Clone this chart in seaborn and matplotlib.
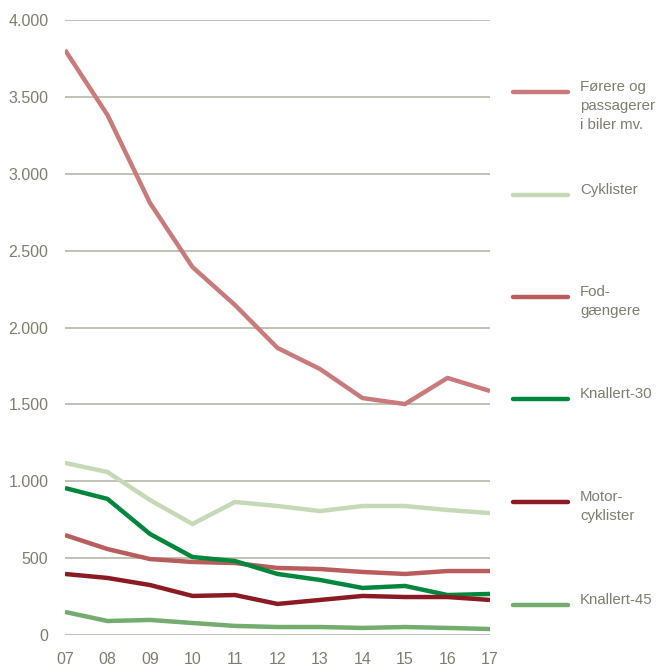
import pandas as pd
import matplotlib.pyplot as plt
from matplotlib.lines import Line2D
import seaborn as sns

# data
years = [7, 8, 9, 10, 11, 12, 13, 14, 15, 16, 17]
year_labels = ['07', '08', '09', '10', '11', '12', '13', '14', '15', '16', '17']

forere = [3805, 3382, 2810, 2393, 2146, 1867, 1730, 1541, 1502, 1672, 1587]
cyklister = [1119, 1060, 878, 722, 865, 839, 806, 839, 839, 813, 793]
fodgaengere = [650, 559, 494, 475, 468, 436, 429, 410, 397, 416, 416]
knallert30 = [956, 885, 657, 507, 481, 397, 358, 306, 319, 260, 267]
motorcyklister = [397, 371, 325, 254, 260, 202, 228, 254, 247, 247, 228]
knallert45 = [150, 91, 98, 78, 59, 52, 52, 46, 52, 46, 39]

series = ['Førere og\npassagerer\ni biler mv.', 'Cyklister', 'Fod-\ngængere',
          'Knallert-30', 'Motor-\ncyklister', 'Knallert-45']
values = [forere, cyklister, fodgaengere, knallert30, motorcyklister, knallert45]
colors = ['#c97b7b', '#c6d9b6', '#b85c5c', '#00873c', '#8b1a22', '#74ab6e']

y_ticks = [0, 500, 1000, 1500, 2000, 2500, 3000, 3500, 4000]
y_labels = ['0', '500', '1.000', '1.500', '2.000', '2.500', '3.000', '3.500', '4.000']

rows = []
for name, vals in zip(series, values):
    for yr, v in zip(years, vals):
        rows.append((yr, v, name))
df = pd.DataFrame(rows, columns=['year', 'value', 'series'])

sns.set_style('white')
plt.rcParams['font.family'] = ['Liberation Sans Narrow', 'Liberation Sans', 'DejaVu Sans']
text_col = '#7f7d6e'
grid_col = '#b8b6a8'

fig = plt.figure(figsize=(6.57, 6.66), dpi=100)
ax = fig.add_axes([65 / 657, 31 / 666, 425 / 657, 615 / 666])

for y in y_ticks:
    ax.axhline(y, color=grid_col, lw=1.2, zorder=0)

sns.lineplot(data=df, x='year', y='value', hue='series', hue_order=series,
             palette=colors, linewidth=3.2, ax=ax, legend=False)
for ln in ax.lines[len(y_ticks):]:
    ln.set_solid_capstyle('butt')

ax.set_xlim(7, 17)
ax.set_ylim(0, 4000)
ax.set_xticks(years)
ax.set_xticklabels(year_labels)
ax.set_yticks(y_ticks)
ax.set_yticklabels(y_labels)
ax.tick_params(axis='both', length=0, labelsize=11.5, colors=text_col)
ax.tick_params(axis='y', pad=12)
ax.tick_params(axis='x', pad=12)
ax.set_xlabel('')
ax.set_ylabel('')
for s in ax.spines.values():
    s.set_visible(False)

# legend drawn on the right, one entry per series
legend_y = [92, 195, 297, 399, 502, 605]
for name, col, ypx in zip(series, colors, legend_y):
    yf = 1 - ypx / 666
    fig.add_artist(Line2D([513 / 657, 568 / 657], [yf, yf], color=col, lw=3.2,
                          solid_capstyle='round'))
    fig.text(580 / 657, yf + 12 / 666, name, color=text_col, fontsize=10.8,
             va='top', ha='left', linespacing=1.45)

fig.savefig('out.png', dpi=100)
